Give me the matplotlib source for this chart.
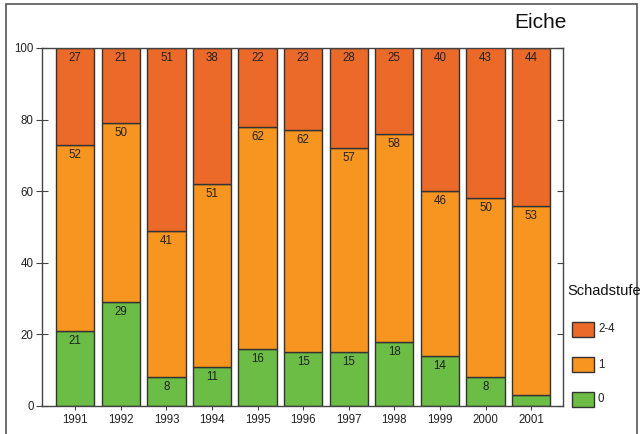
import matplotlib
matplotlib.use("Agg")
import matplotlib.pyplot as plt
from matplotlib.patches import Rectangle
from matplotlib import markers
import numpy as np

plt.rcParams['font.family'] = ['Liberation Sans', 'DejaVu Sans']

years = ['1991', '1992', '1993', '1994', '1995', '1996', '1997', '1998', '1999', '2000', '2001']
stufe_0 = [21, 29, 8, 11, 16, 15, 15, 18, 14, 8, 3]
stufe_1 = [52, 50, 41, 51, 62, 62, 57, 58, 46, 50, 53]
stufe_24 = [27, 21, 51, 38, 22, 23, 28, 25, 40, 43, 44]
label_0 = [True, True, True, True, True, True, True, True, True, True, False]

series = [('0', stufe_0, '#6cbd45'), ('1', stufe_1, '#f6951f'), ('2-4', stufe_24, '#ec6a29')]
yticks = [0, 20, 40, 60, 80, 100]

W, H = 643, 434
fig = plt.figure(figsize=(W / 100, H / 100), dpi=100)
fig.patch.set_facecolor('white')

def fx(px):
    return px / W

def fy(py):
    return 1 - py / H

# outer frame around the whole graphic
fig.add_artist(Rectangle((fx(6), fy(440)), fx(637) - fx(6), fy(4) - fy(440),
                         transform=fig.transFigure, fill=False,
                         edgecolor='#555555', linewidth=1.2))

ax = fig.add_axes([fx(42), fy(406), fx(563) - fx(42), fy(48) - fy(406)])
x = np.arange(len(years))
bottom = np.zeros(len(years))
for name, vals, col in series:
    vals = np.array(vals, dtype=float)
    ax.bar(x, vals, width=0.84, bottom=bottom, color=col,
           edgecolor='#333333', linewidth=1.0, zorder=2)
    tops = np.minimum(bottom + vals, 100)
    for i, v in enumerate(vals):
        if name == '0' and not label_0[i]:
            continue
        ax.annotate(f"{int(v)}", (x[i], tops[i]), xytext=(0, -7.2),
                    textcoords='offset points', ha='center', va='center',
                    fontsize=8.3, color='#222222', zorder=3)
    bottom = bottom + vals

ax.set_xlim(-0.73, 10.7)
ax.set_ylim(0, 100)
ax.set_xticks(x)
ax.set_xticklabels(years)
ax.set_yticks(yticks)
ax.set_yticklabels([str(t) for t in yticks])
for s in ax.spines.values():
    s.set_color('#444444')
    s.set_linewidth(1.0)
ax.tick_params(axis='x', direction='out', length=3, width=0.8, color='#444444',
               labelsize=8.3, pad=3, labelcolor='#222222')
ax.tick_params(axis='y', direction='inout', length=8, width=0.8, color='#444444',
               labelsize=8.3, pad=2, labelcolor='#222222', right=True)
# right-hand ticks point inward only
for t in ax.yaxis.get_major_ticks():
    t.tick2line.set_marker(markers.TICKLEFT)
    t.tick2line.set_markersize(4)

fig.text(fx(540), fy(22), 'Eiche', ha='center', va='center', fontsize=15, color='#111111')

# legend
fig.text(fx(567), fy(291), 'Schadstufe', ha='left', va='center', fontsize=10.5, color='#111111')
for (name, vals, col), y0 in zip(series[::-1], [322, 357, 392]):
    fig.add_artist(Rectangle((fx(572), fy(y0 + 15)), fx(594) - fx(572), fy(y0) - fy(y0 + 15),
                             transform=fig.transFigure, facecolor=col,
                             edgecolor='#333333', linewidth=1.0))
    fig.text(fx(598), fy(y0 + 7.5), name, ha='left', va='center', fontsize=8.3, color='#222222')

fig.savefig('out.png', dpi=100)
